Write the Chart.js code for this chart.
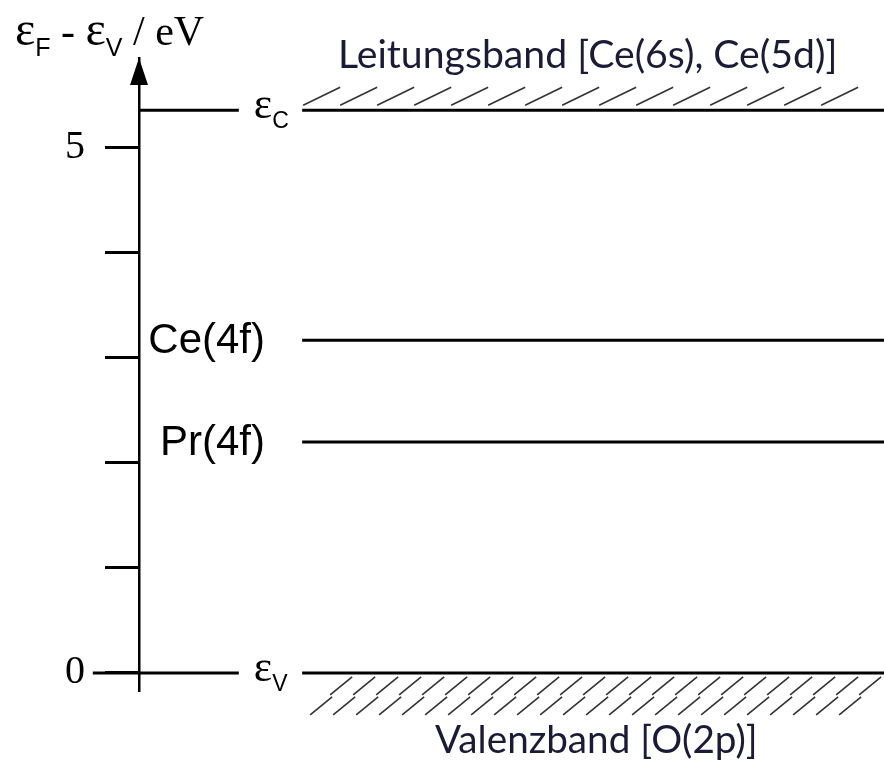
<!DOCTYPE html>
<html>
<head>
<meta charset="utf-8">
<script src="https://cdn.jsdelivr.net/npm/chart.js@4.4.1/dist/chart.umd.min.js"></script>
<style>
  html, body { margin:0; padding:0; background:#fff; }
  #wrap { width:884px; height:763px; }
</style>
</head>
<body>
<div id="wrap"><canvas id="bands" width="884" height="763"></canvas></div>
<script>
// Daten: Energieniveaus (eV, relativ zu eps_V)
const levelNames    = ['εV', 'Pr(4f)', 'Ce(4f)', 'εC'];
const levelEnergies = [0, 2.20, 3.17, 5.36];
const tickValues    = [0, 1, 2, 3, 4, 5];
const tickLabels    = ['0', '', '', '', '', '5'];
const bandLabels    = ['Leitungsband [Ce(6s), Ce(5d)]', 'Valenzband [O(2p)]'];
const axisTitle     = [['ε', 'F'], [' - ', ''], ['ε', 'V'], [' / eV', '']];

// Layout (x in willkuerlichen Einheiten, 0 = Achse, 10 = rechter Rand)
const yMin = -0.162, yMax = 5.857;
const segLeftEnd = 1.34, segRightStart = 2.19, xEnd = 10, zeroStart = -0.62;
const serif = '"Liberation Serif", "Times New Roman", serif';
const sans  = '"Liberation Sans", Arial, sans-serif';
const bandFont = 'Lato, "Open Sans", sans-serif';

// Segmente je Niveau bauen
const datasets = [];
levelNames.forEach((name, i) => {
  const e = levelEnergies[i];
  if (name.startsWith('ε')) {
    datasets.push({ data:[{x: e === 0 ? zeroStart : 0, y:e}, {x:segLeftEnd, y:e}] });
  }
  datasets.push({ data:[{x:segRightStart, y:e}, {x:xEnd, y:e}] });
});
datasets.forEach(d => Object.assign(d, {
  borderColor:'#000', borderWidth:3, pointRadius:0, fill:false, clip:false, tension:0
}));

// Text mit Index (eps gross in Serif, Index in Sans)
function drawSub(ctx, main, sub, x, y, size) {
  ctx.textBaseline = 'alphabetic';
  ctx.textAlign = 'left';
  const big = main === 'ε' ? size * 1.15 : size;
  ctx.font = `${big.toFixed(1)}px ${serif}`;
  ctx.fillText(main, x, y);
  x += ctx.measureText(main).width;
  if (sub) {
    ctx.font = `${Math.round(size*0.6)}px ${sans}`;
    ctx.fillText(sub, x, y + size*0.27);
    x += ctx.measureText(sub).width;
  }
  return x;
}

function hatch(ctx, x0, x1, yBase, dir, step, dx, dy) {
  ctx.save();
  ctx.strokeStyle = '#333';
  ctx.lineWidth = 1.6;
  ctx.beginPath();
  for (let x = x0; x + dx <= x1 + 4; x += step) {
    if (dir < 0) { // oberhalb
      ctx.moveTo(x, yBase - 5); ctx.lineTo(x + dx, yBase - 5 - dy);
    } else {       // unterhalb, zwei Reihen
      ctx.moveTo(x, yBase + 4 + dy); ctx.lineTo(x + dx, yBase + 4);
      ctx.moveTo(x - dx + 2, yBase + 6 + 2*dy); ctx.lineTo(x + 2, yBase + 6 + dy);
    }
  }
  ctx.stroke();
  ctx.restore();
}

const decor = {
  id: 'decor',
  afterDraw(c) {
    const {ctx, chartArea:{left, top, right}, scales:{x, y}} = c;
    ctx.save();
    ctx.fillStyle = '#000';

    // Pfeilspitze
    ctx.beginPath();
    ctx.moveTo(left, top);
    ctx.lineTo(left - 9, top + 27);
    ctx.lineTo(left + 9, top + 27);
    ctx.closePath();
    ctx.fill();

    // Achsentitel
    let tx = 15;
    axisTitle.forEach(([m, s]) => { tx = drawSub(ctx, m, s, tx, 45, 42); });

    const xr = x.getPixelForValue(segRightStart);
    const xl = x.getPixelForValue(segLeftEnd);

    levelNames.forEach((name, i) => {
      const py = y.getPixelForValue(levelEnergies[i]);
      if (name.startsWith('ε')) {
        drawSub(ctx, name[0], name.slice(1), xl + 15, py + 8, 38);
      } else {
        ctx.font = `42px ${sans}`;
        ctx.textAlign = 'right';
        ctx.textBaseline = 'middle';
        ctx.fillText(name, 265, py + 1);
      }
    });

    // Schraffur
    const yC = y.getPixelForValue(levelEnergies[3]);
    const yV = y.getPixelForValue(levelEnergies[0]);
    hatch(ctx, xr + 1, right, yC, -1, 37, 37, 18);
    hatch(ctx, xr + 28, right, yV, 1, 23, 22, 18);

    // Bandbeschriftungen
    ctx.fillStyle = '#1b1b38';
    ctx.textAlign = 'left';
    ctx.textBaseline = 'alphabetic';
    const fit = (txt, w) => {
      ctx.font = `30px ${bandFont}`;
      const s = 30 * w / ctx.measureText(txt).width;
      ctx.font = `${s.toFixed(1)}px ${bandFont}`;
    };
    fit(bandLabels[0], 500);
    ctx.fillText(bandLabels[0], 338, 68);
    fit(bandLabels[1], 323);
    ctx.fillText(bandLabels[1], 435, 753);
    ctx.restore();
  }
};

new Chart(document.getElementById('bands').getContext('2d'), {
  type: 'line',
  data: { datasets },
  options: {
    responsive: false,
    animation: false,
    layout: { padding: { top:58, right:0, bottom:73, left:0 } },
    plugins: { legend:{ display:false }, tooltip:{ enabled:false } },
    scales: {
      x: { type:'linear', min:0, max:xEnd, display:false },
      y: {
        type:'linear', min:yMin, max:yMax,
        afterFit: s => { s.width = 139; },
        afterBuildTicks: s => { s.ticks = tickValues.map(v => ({ value:v })); },
        ticks: {
          color:'#000', padding:20,
          font: { family:serif, size:40 },
          callback: (v) => tickLabels[tickValues.indexOf(v)] ?? ''
        },
        grid: { drawOnChartArea:false, drawTicks:true, tickLength:34, color:'#000', lineWidth:3 },
        border: { display:true, color:'#000', width:2.5 }
      }
    }
  },
  plugins: [decor]
});
</script>
</body>
</html>
